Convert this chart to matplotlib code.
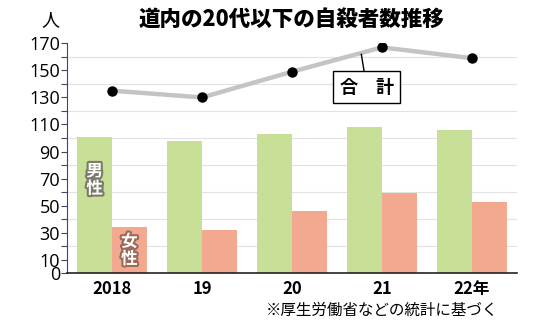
import matplotlib
matplotlib.use("Agg")
import matplotlib.pyplot as plt
import matplotlib.patheffects as pe
import numpy as np

plt.rcParams['font.family'] = ['Noto Sans CJK JP', 'DejaVu Sans']

years = ["2018", "19", "20", "21", "22年"]
male = [101, 98, 103, 108, 106]
female = [34, 32, 46, 59, 53]
total = [135, 130, 149, 167, 159]
yticks_major = [0, 10, 30, 50, 70, 90, 110, 130, 150, 170]

fig = plt.figure(figsize=(5.5, 3.29), dpi=100)
ax = fig.add_axes([67/550, 1-273.3/329, 450/550, 230/329])

x = np.arange(len(years))
w = 0.385
ax.bar(x - w/2, male, width=w, color='#c8df98', zorder=2)
ax.bar(x + w/2, female, width=w, color='#f2a98f', zorder=2)
ax.plot(x, total, color='#c4c4c4', lw=3.2, zorder=3, solid_capstyle='butt')
ax.plot(x, total, 'o', color='black', ms=6.5, zorder=4)

ax.set_xlim(-0.5, 4.5)
ax.set_ylim(0, 170)
ax.set_yticks(yticks_major)
ax.set_yticks(np.arange(0, 171, 10), minor=True)
ax.set_yticklabels([str(v) for v in yticks_major], fontsize=13, family=['Open Sans', 'DejaVu Sans'])
ax.yaxis.grid(True, which='minor', color='#e2e2e2', lw=0.8, zorder=0)
ax.tick_params(axis='y', which='both', direction='out', length=4, width=0.8, color='#444466', pad=1)
ax.set_xticks(x)
ax.set_xticklabels(years, fontsize=12, fontweight='bold')
ax.tick_params(axis='x', length=0, pad=5)
for s in ['top', 'right']:
    ax.spines[s].set_visible(False)
ax.spines['left'].set_color('#444466')
ax.spines['bottom'].set_color('#222222')
ax.spines['bottom'].set_linewidth(1.2)

ax.text(x[0] - w/2, 69, "男\n性", ha='center', va='center', color='white', fontsize=12,
        fontweight='bold', linespacing=0.95, zorder=5,
        path_effects=[pe.withStroke(linewidth=3, foreground='#7a7a6a')])
ax.text(x[0] + w/2, 17, "女\n性", ha='center', va='center', color='white', fontsize=12,
        fontweight='bold', linespacing=0.95, zorder=5,
        path_effects=[pe.withStroke(linewidth=3, foreground='#9a6a5a')])

ax.annotate("合　計", xy=(2.77, 162), xytext=(2.83, 137.5), ha='center', va='center',
            fontsize=13, fontweight='bold', zorder=6,
            bbox=dict(boxstyle='square,pad=0.35', fc='white', ec='black', lw=1),
            arrowprops=dict(arrowstyle='-', color='black', lw=1, shrinkA=0, shrinkB=0))

fig.text(292/550, 1-19/329, "道内の20代以下の自殺者数推移", ha='center', va='center',
         fontsize=15.5, fontweight='heavy')
fig.text(50/550, 1-20/329, "人", ha='center', va='center', fontsize=13)
fig.text(498/550, 1-310/329, "※厚生労働省などの統計に基づく", ha='right', va='center', fontsize=11.2)

fig.savefig("out.png", dpi=100)
